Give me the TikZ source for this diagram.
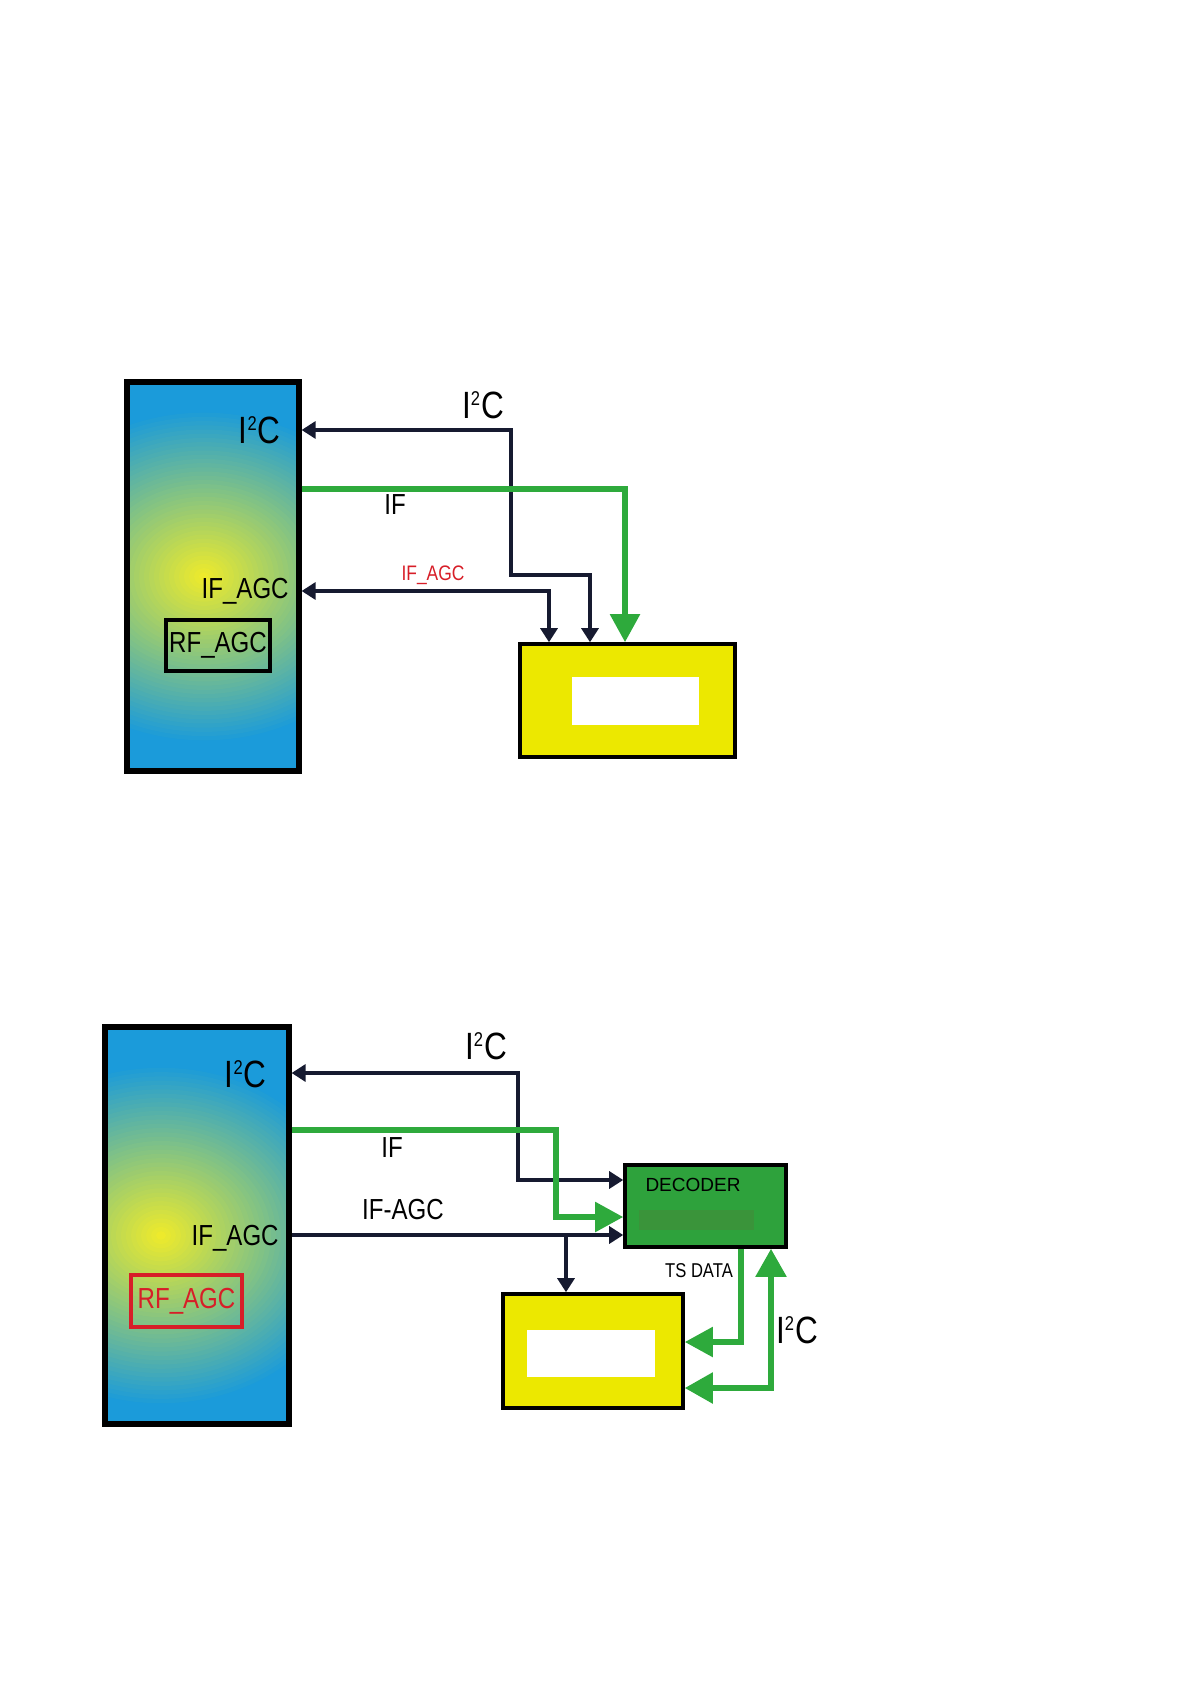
\documentclass[tikz,border=0pt]{standalone}
\usepackage{fontspec}
\setmainfont{Liberation Sans}
\newfontfamily\narrowfont{Liberation Sans}[FakeStretch=0.83]
\usetikzlibrary{arrows.meta,positioning}
\definecolor{tunblue}{RGB}{27,155,218}
\definecolor{tunyellow}{RGB}{242,236,40}
\definecolor{demyellow}{RGB}{236,232,0}
\definecolor{siggreen}{RGB}{46,170,60}
\definecolor{decgreen}{RGB}{46,162,60}
\definecolor{bandgreen}{RGB}{58,148,58}
\definecolor{navy}{RGB}{22,26,48}
\definecolor{agcred}{RGB}{215,30,40}
\newcommand{\itwoc}{I\textsuperscript{\scalebox{.75}{2}}C}
% soft yellow glow: #1 shift, #2 x radius, #3 y radius
\newcommand{\tunglow}[3]{%
  \foreach \k in {40,39,...,1}{%
    \pgfmathsetmacro\pc{100*(1-\k/40)}%
    \fill[tunyellow!\pc!tunblue] ([shift={#1}]path picture bounding box.center)
      ellipse [x radius=\k/40*#2,y radius=\k/40*#3];}}

\begin{document}
\begin{tikzpicture}[x=0.5pt,y=-0.5pt]
\tikzset{
  tunerbox/.style={draw,line width=2.6pt,fill=tunblue,inner sep=0pt},
  demodbox/.style={draw,line width=1.8pt,fill=demyellow,inner sep=0pt},
  holebox/.style={fill=white,inner sep=0pt},
  agcbox/.style={draw,line width=1.6pt,inner sep=0pt},
  ctrl/.style={draw=navy,line width=1.6pt},
  ifsig/.style={draw=siggreen,line width=2.7pt},
  tip/.style={-{Triangle[length=7pt,width=8.5pt]}},
  bitip/.style={{Triangle[length=7pt,width=8.5pt]}-{Triangle[length=7pt,width=8.5pt]}},
  gtip/.style={-{Triangle[length=14pt,width=14.5pt]}},
  bigtip/.style={{Triangle[length=14pt,width=15pt]}-{Triangle[length=14pt,width=15pt]}},
  biglabel/.style={font=\narrowfont\fontsize{19}{22}\selectfont,inner sep=0pt},
  midlabel/.style={font=\narrowfont\fontsize{14.5}{17}\selectfont,inner sep=0pt}
}
\useasboundingbox (0,0) rectangle (1191,1684);

% upper picture
\node[tunerbox,minimum width=86pt,minimum height=194.5pt,
  path picture={\tunglow{(-9,0)}{100pt}{84pt}}]
  (n_tun1) at (213,576.5) {};
\node[agcbox,minimum width=52pt,minimum height=25.5pt,midlabel] (n_rf1) at (218,645.5) {RF\_AGC};
\node[demodbox,minimum width=107.5pt,minimum height=56.5pt] (n_dem1) at (627.5,700.5) {};
\node[holebox,minimum width=63.5pt,minimum height=24pt] (n_hole1) at (635.5,701) {};
\node[biglabel,anchor=east] (l_i2cin1) at (281,430) {\itwoc};
\node[midlabel,anchor=east] (l_agcin1) at (289,591) {IF\_AGC};
\node[biglabel] (l_i2c1) at (483,405) {\itwoc};
\node[midlabel] (l_if1) at (395,505) {IF};
\node[font=\narrowfont\fontsize{10.5}{12}\selectfont,text=agcred,inner sep=0pt] (l_agc1) at (433,575) {IF\_AGC};
\coordinate (c_i2c1) at (511,430);
\coordinate (c_i2c1b) at (590,575);
\coordinate (c_agc1) at (549,591);
\coordinate (c_if1) at (625,489);
\draw[ctrl,bitip]
  (n_tun1.east |- c_i2c1) -- (c_i2c1) |- (c_i2c1b) -- (c_i2c1b |- n_dem1.north);
\draw[ctrl,bitip] (n_tun1.east |- c_agc1) -| (c_agc1 |- n_dem1.north);
\draw[ifsig,gtip] (n_tun1.east |- c_if1) -| (c_if1 |- n_dem1.north);

% lower picture
\node[tunerbox,minimum width=92pt,minimum height=198.5pt,
  path picture={\tunglow{(-36,10)}{100pt}{86pt}}]
  (n_tun2) at (197,1225.5) {};
\node[agcbox,draw=agcred,text=agcred,minimum width=55.5pt,minimum height=26pt,midlabel] (n_rf2) at (186.5,1301) {RF\_AGC};
\node[draw,line width=1.8pt,fill=decgreen,inner sep=0pt,minimum width=80.5pt,minimum height=41pt] (n_dec2) at (705.5,1206) {};
\node[fill=bandgreen,inner sep=0pt,minimum width=57.5pt,minimum height=10pt] (n_band2) at (696.5,1220) {};
\node[font=\fontsize{9.5}{11}\selectfont,inner sep=0pt] (l_dec2) at (693,1185) {DECODER};
\node[demodbox,minimum width=90pt,minimum height=57pt] (n_dem2) at (593,1351) {};
\node[holebox,minimum width=64pt,minimum height=23.5pt] (n_hole2) at (591,1353.5) {};
\node[biglabel,anchor=east] (l_i2cin2) at (267,1074) {\itwoc};
\node[midlabel,anchor=east] (l_agcin2) at (279,1238) {IF\_AGC};
\node[biglabel] (l_i2c2) at (486,1046) {\itwoc};
\node[midlabel] (l_if2) at (392,1148) {IF};
\node[midlabel] (l_agc2) at (403,1210) {IF-AGC};
\node[font=\narrowfont\fontsize{10}{12}\selectfont,inner sep=0pt] (l_ts2) at (699,1271) {TS DATA};
\node[biglabel] (l_i2c3) at (797,1330) {\itwoc};
\coordinate (c_i2c2) at (518,1073);
\coordinate (c_i2c2b) at (518,1180);
\coordinate (c_if2) at (556,1130);
\coordinate (c_if2b) at (556,1217);
\coordinate (c_agc2) at (566,1235);
\coordinate (c_ts2) at (741,1342);
\coordinate (c_i2c3) at (771,1388);
\draw[ctrl,bitip] (n_tun2.east |- c_i2c2) -- (c_i2c2) |- (n_dec2.west |- c_i2c2b);
\draw[ifsig,gtip] (n_tun2.east |- c_if2) -- (c_if2) |- (n_dec2.west |- c_if2b);
\draw[ctrl,tip] (n_tun2.east |- c_agc2) -- (n_dec2.west |- c_agc2);
\draw[ctrl,tip] (c_agc2) -- (c_agc2 |- n_dem2.north);
\draw[ifsig,gtip] (n_dec2.south -| c_ts2) |- (n_dem2.east |- c_ts2);
\draw[ifsig,bigtip] (n_dem2.east |- c_i2c3) -| (n_dec2.south -| c_i2c3);
\end{tikzpicture}
\end{document}
